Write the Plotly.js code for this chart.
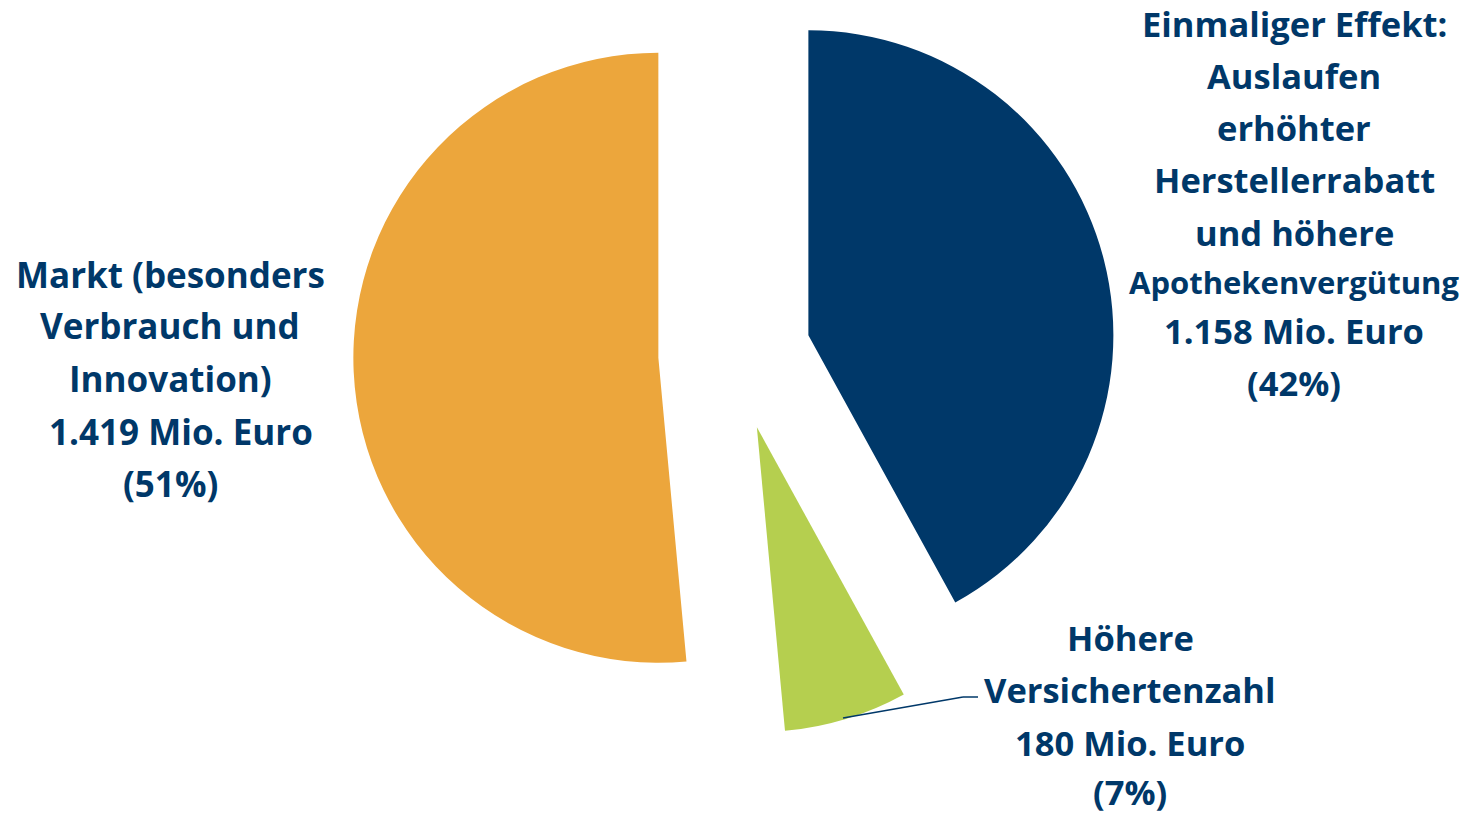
<!DOCTYPE html>
<html><head><meta charset="utf-8">
<script src="https://cdn.plot.ly/plotly-3.0.1.min.js"></script>
<style>html,body{margin:0;padding:0;overflow:hidden;background:#fff}#chart{width:1467px;height:841px;margin-top:-27px}</style>
</head><body><div id="chart"></div>
<script>
// Data
const categories = ["Einmaliger Effekt", "Höhere Versichertenzahl", "Markt"];
const values = [1158, 180, 1419];
const colors = ["#003869", "#b5cf4f", "#eca63c"];

// Label texts (one entry per line)
const rightLines = ["Einmaliger Effekt:", "Auslaufen", "erhöhter", "Herstellerrabatt", "und höhere", "Apothekenvergütung", "1.158 Mio. Euro", "(42%)"];
const bottomLines = ["Höhere", "Versichertenzahl", "180 Mio. Euro", "(7%)"];
const leftLines = ["Markt (besonders", "Verbrauch und", "Innovation)", "\u00a01.419 Mio. Euro", "(51%)"];

const W = 1467, H = 841, OFF = 27;
const TXT = "#003869";
const FONT = "Open Sans";

function px(x){ return x / W; }
function py(y){ return 1 - (y + OFF) / H; }

function ann(text, x, y, size){
  return {text: text, x: px(x), y: py(y), xref: 'paper', yref: 'paper',
    xanchor: 'center', yanchor: 'middle', showarrow: false,
    font: {family: FONT, size: size, color: TXT, weight: 'bold'}};
}

const annotations = [];
const rightY = [24, 76, 128, 180, 232, 282, 330, 382];
rightLines.forEach((t, i) => annotations.push(ann(t, 1294, rightY[i], t === "Apothekenvergütung" ? 31 : 34.5)));
const bottomY = [637, 689, 742, 791];
bottomLines.forEach((t, i) => annotations.push(ann(t, 1130, bottomY[i], 34.5)));
const leftY = [274, 326, 378, 431, 483];
leftLines.forEach((t, i) => annotations.push(ann(t, i === 3 ? 176 : 170, leftY[i], 35)));

const lineStyle = {color: TXT, width: 1.5};
const shapes = [
  {type: 'line', xref: 'paper', yref: 'paper', x0: px(843), y0: py(718), x1: px(963), y1: py(697), line: lineStyle},
  {type: 'line', xref: 'paper', yref: 'paper', x0: px(963), y0: py(697), x1: px(978), y1: py(697), line: lineStyle}
];

const trace = {
  type: 'pie',
  labels: categories,
  values: values,
  marker: {colors: colors, line: {width: 0}},
  sort: false,
  direction: 'clockwise',
  rotation: 0,
  pull: [0.25, 0.25, 0.25],
  textinfo: 'none',
  hoverinfo: 'skip',
  domain: {x: [0.2007, 0.8007], y: [1 - 762.5 / H, 1]}
};

const layout = {
  width: W, height: H,
  margin: {l: 0, r: 0, t: 0, b: 0, pad: 0},
  showlegend: false,
  paper_bgcolor: '#ffffff',
  plot_bgcolor: '#ffffff',
  annotations: annotations,
  shapes: shapes
};

Plotly.newPlot('chart', [trace], layout, {staticPlot: true, displayModeBar: false});
</script>
</body></html>
